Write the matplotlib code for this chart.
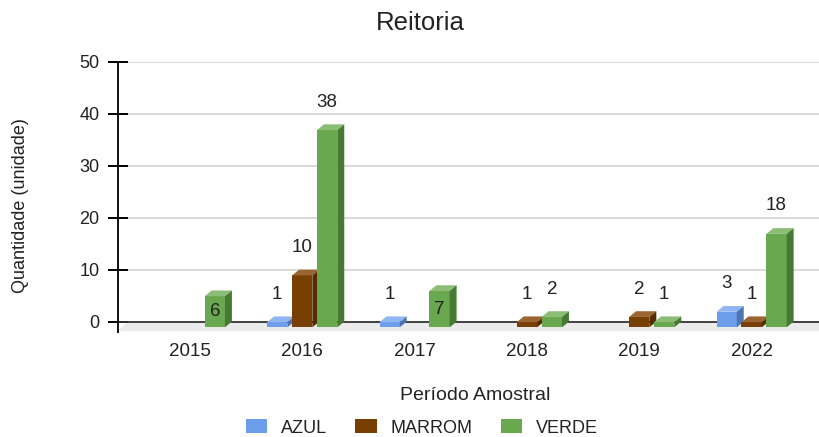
import matplotlib
matplotlib.use("Agg")
import matplotlib.pyplot as plt
from matplotlib.patches import Polygon, Patch

# dados
anos = ["2015", "2016", "2017", "2018", "2019", "2022"]
azul = [0, 1, 1, 0, 0, 3]
marrom = [0, 10, 0, 1, 2, 1]
verde = [6, 38, 7, 2, 1, 18]
series = ["AZUL", "MARROM", "VERDE"]
yticks = [0, 10, 20, 30, 40, 50]
# rotulos que o Google desenha dentro da barra
dentro = [("VERDE", "2015"), ("VERDE", "2017")]

cores = {
    "AZUL": ("#6d9eeb", "#8fb6f0", "#4f75b3"),
    "MARROM": ("#783f04", "#9b6433", "#552c02"),
    "VERDE": ("#6aa84f", "#8cbd76", "#467a32"),
}
desloc = {"AZUL": -0.222, "MARROM": 0.0, "VERDE": 0.222}
valores = {"AZUL": azul, "MARROM": marrom, "VERDE": verde}

plt.rcParams["font.family"] = ["Liberation Sans", "DejaVu Sans"]
texto = "#222222"

fig = plt.figure(figsize=(8.19, 4.37), dpi=100)
ax = fig.add_axes([118 / 819, (437 - 332) / 437, 1 - 118 / 819, 270 / 437])

xmin, xmax = -0.64, 5.6
ax.set_xlim(xmin, xmax)
ax.set_ylim(-2, 50)

w = 0.18
dx = 0.062
dy = 1.1


def barra3d(x, v, c):
    frente, topo, lado = c
    x0, x1 = x - w / 2, x + w / 2
    ax.add_patch(Polygon([(x0, -dy), (x1, -dy), (x1, v - dy), (x0, v - dy)],
                         closed=True, facecolor=frente, edgecolor="none", zorder=5))
    ax.add_patch(Polygon([(x0, v - dy), (x1, v - dy), (x1 + dx, v), (x0 + dx, v)],
                         closed=True, facecolor=topo, edgecolor="none", zorder=5))
    ax.add_patch(Polygon([(x1, -dy), (x1 + dx, 0), (x1 + dx, v), (x1, v - dy)],
                         closed=True, facecolor=lado, edgecolor="none", zorder=5))


# piso cinza
ax.add_patch(Polygon([(xmin, -1.9), (xmax, -1.9), (xmax, 0), (xmin + 0.08, 0)],
                     closed=True, facecolor="#ebebeb", edgecolor="none", zorder=1))
ax.plot([xmin, xmax], [0, 0], color="#333333", lw=1.3, zorder=2)

for i, ano in enumerate(anos):
    for s in series:
        v = valores[s][i]
        if v == 0:
            continue
        x = i + desloc[s]
        barra3d(x, v, cores[s])
        if (s, ano) in dentro:
            ax.text(x, (v - 2 * dy) / 2, str(v), ha="center", va="center",
                    fontsize=13.5, color=texto, zorder=6)
        else:
            ax.annotate(str(v), (x, v), xytext=(0, 16), textcoords="offset points",
                        ha="center", va="center", fontsize=13.5, color=texto, zorder=6)

ax.set_yticks(yticks)
ax.set_yticklabels([str(t) for t in yticks], fontsize=13, color=texto)
ax.set_xticks(range(len(anos)))
ax.set_xticklabels(anos, fontsize=13.5, color=texto)
ax.tick_params(axis="x", length=0, pad=8)
ax.tick_params(axis="y", direction="inout", length=14.4, width=1.4, pad=6)
for t in yticks[1:]:
    ax.plot([xmin, xmax], [t, t], color="#d3d3d3", lw=1.2, zorder=0)

for sp in ["top", "right", "bottom"]:
    ax.spines[sp].set_visible(False)
ax.spines["left"].set_linewidth(1.4)
ax.spines["left"].set_color("#111111")

ax.set_ylabel("Quantidade (unidade)", fontsize=13, color=texto)
ax.yaxis.set_label_coords((29 - 118) / 701, (332 - 206) / 270)
fig.text(475 / 819, 1 - 395 / 437, "Período Amostral", ha="center", va="center",
         fontsize=14, color=texto)
fig.text(420 / 819, 1 - 23 / 437, "Reitoria", ha="center", va="center",
         fontsize=18.5, color=texto)

handles = [Patch(facecolor=cores[s][0], edgecolor="none") for s in series]
fig.legend(handles, series, loc="center", bbox_to_anchor=(422 / 819, 1 - 428 / 437),
           ncol=3, frameon=False, fontsize=13, handlelength=1.17, handleheight=0.8,
           columnspacing=1.55, handletextpad=0.78, labelcolor=texto)

fig.savefig("out.png", dpi=100)
